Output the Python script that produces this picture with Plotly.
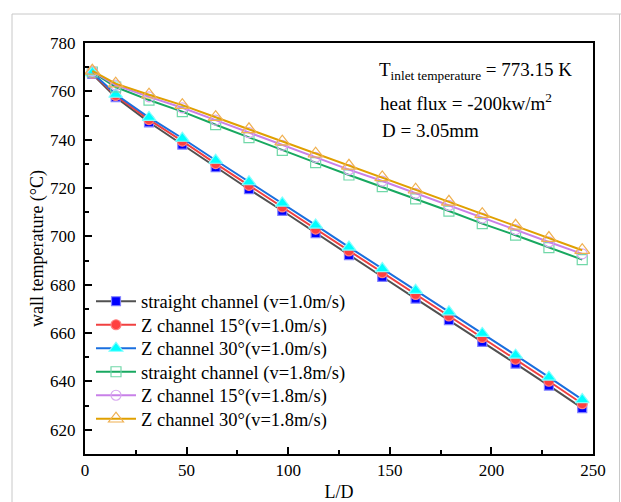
import plotly.graph_objects as go

# ---- data ----
ld = [3.6, 15.1, 31.5, 47.9, 64.3, 80.7, 97.1, 113.5, 129.9, 146.3, 162.7, 179.1, 195.5, 211.9, 228.3, 244.7]

straight_v10 = [767.2, 757.6, 747.2, 738.0, 728.6, 719.5, 710.6, 701.4, 692.3, 683.3, 674.3, 665.4, 656.4, 647.4, 638.3, 629.0]
z15_v10 = [767.5, 758.3, 748.3, 739.4, 730.1, 721.1, 712.2, 703.0, 694.0, 685.0, 676.0, 667.1, 658.2, 649.2, 640.1, 630.8]
z30_v10 = [767.7, 758.8, 749.2, 740.6, 731.5, 722.6, 713.8, 704.7, 695.6, 686.7, 677.7, 668.8, 659.9, 650.9, 641.8, 632.5]

straight_v18 = [768.0, 761.8, 756.4, 751.6, 746.2, 740.9, 735.6, 730.5, 725.4, 720.6, 715.5, 710.5, 705.3, 700.5, 695.4, 690.4]
z15_v18 = [768.3, 762.6, 757.7, 753.2, 748.1, 742.9, 737.7, 732.7, 727.6, 722.9, 717.8, 712.8, 707.6, 702.8, 697.7, 692.8]
z30_v18 = [768.5, 763.2, 758.6, 754.3, 749.3, 744.3, 739.2, 734.2, 729.2, 724.4, 719.3, 714.3, 709.2, 704.4, 699.3, 694.3]

series_names = [
    "straight channel (v=1.0m/s)",
    "Z channel 15°(v=1.0m/s)",
    "Z channel 30°(v=1.0m/s)",
    "straight channel (v=1.8m/s)",
    "Z channel 15°(v=1.8m/s)",
    "Z channel 30°(v=1.8m/s)",
]
series_values = [straight_v10, z15_v10, z30_v10, straight_v18, z15_v18, z30_v18]

x_ticks = [0, 50, 100, 150, 200, 250]
y_ticks = [620, 640, 660, 680, 700, 720, 740, 760, 780]

# ---- styles ----
styles = [
    dict(line="#515151", symbol="square", mcolor="#0000FF", mline="#8080FF", size=9),
    dict(line="#F14040", symbol="circle", mcolor="#FF4040", mline="#FF8080", size=10),
    dict(line="#1A6FDF", symbol="triangle-up", mcolor="#00FFFF", mline="#80FFFF", size=12),
    dict(line="#18A860", symbol="square-open", mcolor="#70D8A8", mline="#70D8A8", size=10),
    dict(line="#C880E8", symbol="circle-open", mcolor="#D8A8F0", mline="#D8A8F0", size=10),
    dict(line="#E0A000", symbol="triangle-up-open", mcolor="#F0B050", mline="#F0B050", size=13),
]

FONT = "Liberation Serif, Times New Roman, serif"

# plot area geometry
L, R, T, B = 85, 28, 43, 48
W, H = 621, 502
pw, ph = W - L - R, H - T - B

def px(xp):
    return (xp - L) / pw

def py(yp):
    return (H - B - yp) / ph

legend_ids = ["legend", "legend2", "legend3", "legend4", "legend5", "legend6"]
legend_rows = [301.7, 325.2, 348.7, 372.2, 395.7, 419.2]

fig = go.Figure()
for name, vals, st, lid in zip(series_names, series_values, styles, legend_ids):
    fig.add_trace(go.Scatter(
        x=ld, y=vals, name=name, mode="lines+markers", legend=lid,
        line=dict(color=st["line"], width=2),
        marker=dict(symbol=st["symbol"], size=st["size"], color=st["mcolor"],
                    line=dict(color=st["mline"], width=1.2)),
    ))

legend_layouts = {}
for lid, row in zip(legend_ids, legend_rows):
    legend_layouts[lid] = dict(
        x=px(91), y=py(row), xanchor="left", yanchor="middle",
        bgcolor="rgba(0,0,0,0)", borderwidth=0,
        font=dict(family=FONT, size=18.5, color="black"),
        itemwidth=40,
    )

fig.update_layout(
    width=W, height=H,
    margin=dict(l=L, r=R, t=T, b=B, autoexpand=False),
    paper_bgcolor="white", plot_bgcolor="white",
    font=dict(family=FONT, size=17, color="black"),
    showlegend=True,
    **legend_layouts,
    xaxis=dict(
        range=[0, 250], tickvals=x_ticks, ticktext=[str(v) for v in x_ticks],
        ticks="inside", ticklen=7, tickwidth=2, tickcolor="black",
        minor=dict(dtick=25, ticks="inside", ticklen=4, tickwidth=2, tickcolor="black"),
        showline=True, linewidth=2, linecolor="black", mirror=True,
        showgrid=False, zeroline=False, automargin=False,
        ticklabelstandoff=0,
        title=dict(text="L/D", font=dict(family=FONT, size=18), standoff=14),
        tickfont=dict(family=FONT, size=17),
    ),
    yaxis=dict(
        range=[610, 780], tickvals=y_ticks, ticktext=[str(v) for v in y_ticks],
        ticks="inside", ticklen=7, tickwidth=2, tickcolor="black",
        minor=dict(dtick=10, ticks="inside", ticklen=4, tickwidth=2, tickcolor="black"),
        showline=True, linewidth=2, linecolor="black", mirror=True,
        showgrid=False, zeroline=False, automargin=False,
        ticklabelstandoff=4,
        title=dict(text="wall temperature (°C)", font=dict(family=FONT, size=18), standoff=2),
        tickfont=dict(family=FONT, size=17),
    ),
    annotations=[
        dict(xref="paper", yref="paper", x=px(377), y=py(71), xanchor="left", yanchor="middle",
             text="T<sub>inlet temperature</sub> = 773.15 K", showarrow=False,
             font=dict(family=FONT, size=19)),
        dict(xref="paper", yref="paper", x=px(378), y=py(102), xanchor="left", yanchor="middle",
             text="heat flux = -200kw/m<sup>2</sup>", showarrow=False,
             font=dict(family=FONT, size=19)),
        dict(xref="paper", yref="paper", x=px(380), y=py(130), xanchor="left", yanchor="middle",
             text="D = 3.05mm", showarrow=False,
             font=dict(family=FONT, size=19)),
    ],
    shapes=[
        dict(type="line", xref="paper", yref="paper", x0=px(12), x1=px(12), y0=py(14), y1=py(502),
             line=dict(color="#C8C8C8", width=1)),
        dict(type="line", xref="paper", yref="paper", x0=px(12), x1=px(621), y0=py(14), y1=py(14),
             line=dict(color="#C8C8C8", width=1)),
        dict(type="line", xref="paper", yref="paper", x0=px(619.5), x1=px(619.5), y0=py(14), y1=py(502),
             line=dict(color="#C8C8C8", width=1)),
    ],
)

fig.write_html("out.html")
